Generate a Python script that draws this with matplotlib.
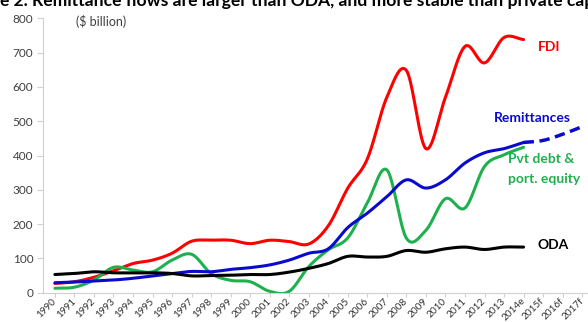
import numpy as np
import matplotlib
matplotlib.use("Agg")
import matplotlib.pyplot as plt

# remittances vs ODA vs private capital flows ($ billion)
years = ["1990", "1991", "1992", "1993", "1994", "1995", "1996", "1997", "1998", "1999",
         "2000", "2001", "2002", "2003", "2004", "2005", "2006", "2007", "2008", "2009",
         "2010", "2011", "2012", "2013", "2014e", "2015f", "2016f", "2017f"]

fdi = [27, 32, 45, 64, 85, 95, 115, 150, 153, 153,
       143, 153, 149, 142, 195, 305, 390, 570, 648, 420,
       570, 718, 670, 744, 738]
remittances = [29, 31, 34, 37, 42, 49, 56, 62, 61, 68,
               73, 81, 95, 115, 128, 190, 232, 280, 329, 305,
               329, 378, 408, 420, 438]
remit_forecast = [438, 444, 462, 484]   # 2014e .. 2017f (dashed)
pvt_debt = [13, 16, 37, 74, 66, 61, 95, 112, 56, 36,
            32, 4, 4, 76, 125, 160, 262, 358, 159, 182,
            274, 247, 368, 402, 424]
oda = [53, 56, 61, 58, 58, 58, 56, 49, 50, 51,
       53, 53, 60, 71, 85, 106, 104, 106, 123, 118,
       128, 133, 126, 133, 133]


def smooth(y, n=20):
    # catmull-rom smoothing, like Excel's "smoothed line"
    y = np.asarray(y, dtype=float)
    x = np.arange(len(y), dtype=float)
    p = np.concatenate([[2 * y[0] - y[1]], y, [2 * y[-1] - y[-2]]])
    xs, ys = [], []
    t = np.linspace(0, 1, n, endpoint=False)
    for i in range(len(y) - 1):
        p0, p1, p2, p3 = p[i], p[i + 1], p[i + 2], p[i + 3]
        seg = 0.5 * ((2 * p1) + (-p0 + p2) * t + (2 * p0 - 5 * p1 + 4 * p2 - p3) * t ** 2
                     + (-p0 + 3 * p1 - 3 * p2 + p3) * t ** 3)
        xs.extend(x[i] + t)
        ys.extend(seg)
    xs.append(x[-1])
    ys.append(y[-1])
    return np.array(xs), np.array(ys)


plt.rcParams['font.family'] = ['Lato', 'DejaVu Sans']

fig = plt.figure(figsize=(5.88, 3.22), dpi=100)
ax = fig.add_axes([43 / 588, 29.3 / 322, 545 / 588, 274.4 / 322])

red = "#FF0000"
blue = "#0A0ACF"
green = "#1FB04E"
lw = 2.2

x, y = smooth(fdi)
ax.plot(x, y, color=red, lw=lw, solid_capstyle="round")
x, y = smooth(pvt_debt)
ax.plot(x, y, color=green, lw=lw, solid_capstyle="round")
x, y = smooth(remittances)
ax.plot(x, y, color=blue, lw=lw, solid_capstyle="round")
x, y = smooth(remit_forecast)
ax.plot(x + len(remittances) - 1, y, color=blue, lw=lw + 0.3, ls=(0, (3, 1.6)))
x, y = smooth(oda)
ax.plot(x, y, color="black", lw=lw, solid_capstyle="round")

ax.text(24.75, 716, "FDI", color=red, fontsize=10, fontweight="bold", va="center")
ax.text(22.5, 509, "Remittances", color=blue, fontsize=10, fontweight="bold", va="center")
ax.text(23.2, 389, "Pvt debt &", color=green, fontsize=10, fontweight="bold", va="center")
ax.text(23.2, 331, "port. equity", color=green, fontsize=10, fontweight="bold", va="center")
ax.text(24.7, 139, "ODA", color="black", fontsize=10, fontweight="bold", va="center")

ax.text(1.1, 790, "($ billion)", color="#404040", fontsize=9, va="center")

ax.set_xlim(-0.61, 27.3)
ax.set_ylim(0, 800)
ax.set_yticks(range(0, 801, 100))
ax.set_xticks(range(len(years)))
ax.set_xticklabels(years, rotation=45, ha="right", va="center", rotation_mode="anchor")
ax.tick_params(axis="y", labelsize=8.5, labelcolor="#404040", color="#D0D0D0", length=4, pad=3)
ax.tick_params(axis="x", labelsize=7.2, labelcolor="#333333", color="#D0D0D0", length=3, pad=2)
for s in ["top", "right"]:
    ax.spines[s].set_visible(False)
for s in ["left", "bottom"]:
    ax.spines[s].set_color("#D0D0D0")

fig.text(0.0, (322 - 6) / 322, "e 2. Remittance flows are larger than ODA, and more stable than private cap",
         fontsize=12.6, fontweight="bold", color="black", va="baseline", ha="left")

fig.savefig("out.png", dpi=100)
